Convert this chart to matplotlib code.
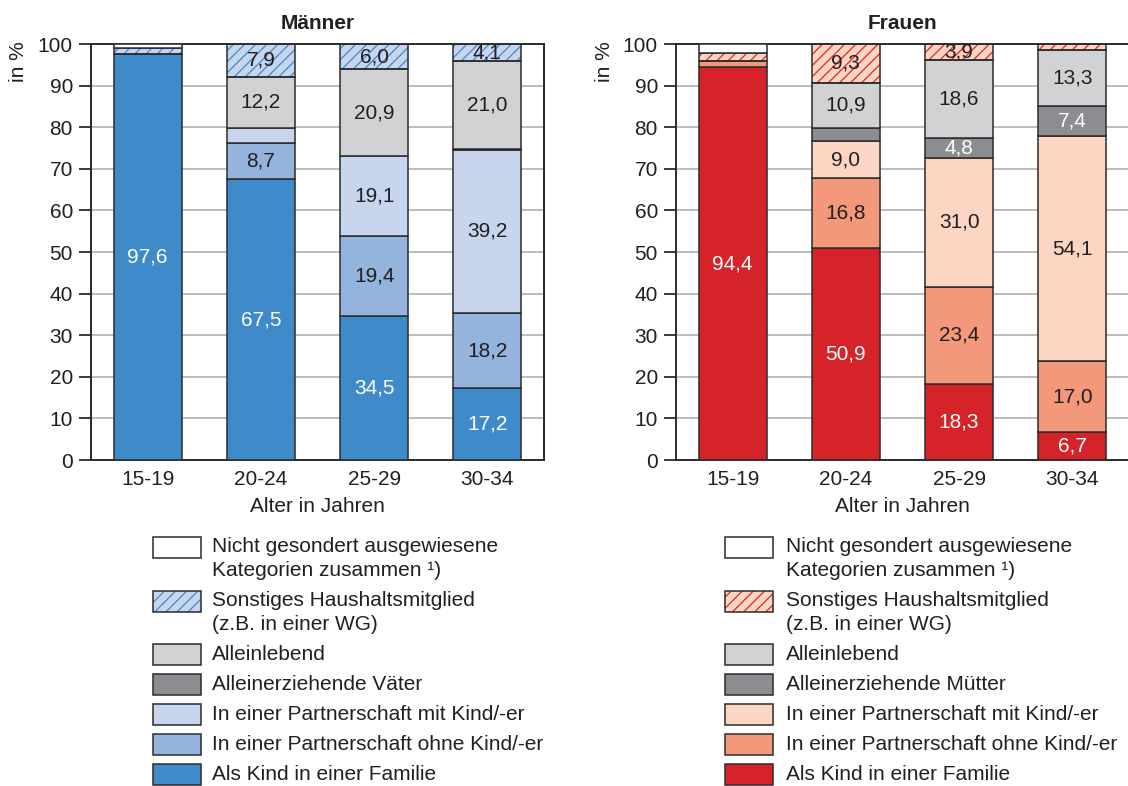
import matplotlib
matplotlib.use("Agg")
import matplotlib.pyplot as plt
from matplotlib.patches import Rectangle

plt.rcParams['font.family'] = ['Liberation Sans', 'DejaVu Sans']
plt.rcParams['hatch.linewidth'] = 0.9

TXT = '#231f20'
EDGE = '#2b2b2b'
FS = 15

ages = ["15-19", "20-24", "25-29", "30-34"]

# Männer, shares in % (bottom to top)
m_kind = [97.6, 67.5, 34.5, 17.2]
m_ohne = [0.0, 8.7, 19.4, 18.2]
m_mit = [0.0, 3.7, 19.1, 39.2]
m_vaeter = [0.0, 0.0, 0.0, 0.2]
m_allein = [0.0, 12.2, 20.9, 21.0]
m_sonst = [1.5, 7.9, 6.0, 4.1]
m_nicht = [0.9, 0.0, 0.1, 0.1]

# Frauen, shares in % (bottom to top)
f_kind = [94.4, 50.9, 18.3, 6.7]
f_ohne = [1.5, 16.8, 23.4, 17.0]
f_mit = [0.0, 9.0, 31.0, 54.1]
f_muetter = [0.0, 3.1, 4.8, 7.4]
f_allein = [0.0, 10.9, 18.6, 13.3]
f_sonst = [1.9, 9.3, 3.9, 1.4]
f_nicht = [2.2, 0.0, 0.0, 0.1]

m_labels = ["Nicht gesondert ausgewiesene\nKategorien zusammen ¹)",
            "Sonstiges Haushaltsmitglied\n(z.B. in einer WG)",
            "Alleinlebend",
            "Alleinerziehende Väter",
            "In einer Partnerschaft mit Kind/-er",
            "In einer Partnerschaft ohne Kind/-er",
            "Als Kind in einer Familie"]
f_labels = ["Nicht gesondert ausgewiesene\nKategorien zusammen ¹)",
            "Sonstiges Haushaltsmitglied\n(z.B. in einer WG)",
            "Alleinlebend",
            "Alleinerziehende Mütter",
            "In einer Partnerschaft mit Kind/-er",
            "In einer Partnerschaft ohne Kind/-er",
            "Als Kind in einer Familie"]

GRAY_L = '#d1d2d4'
GRAY_D = '#8b8d90'
# style per segment (bottom to top): face, hatch, hatch colour, label colour
m_style = [('#3f8bc9', None, None, 'white'),
           ('#94b4de', None, None, TXT),
           ('#c7d6ee', None, None, TXT),
           (GRAY_D, None, None, 'white'),
           (GRAY_L, None, None, TXT),
           ('#c7d6ee', '///', '#3f8bc9', TXT),
           ('white', None, None, TXT)]
f_style = [('#d6232a', None, None, 'white'),
           ('#f4987b', None, None, TXT),
           ('#fdd5c3', None, None, TXT),
           (GRAY_D, None, None, 'white'),
           (GRAY_L, None, None, TXT),
           ('#fdd5c3', '///', '#e0262b', TXT),
           ('white', None, None, TXT)]

W, H = 1128, 786
fig = plt.figure(figsize=(W / 100, H / 100), dpi=100)


def fx(x):
    return x / W


def fy(y):
    return 1 - y / H


def fmt(v):
    return f"{v:.1f}".replace('.', ',')


def draw_panel(left_px, title, series, styles):
    ax = fig.add_axes([fx(left_px), fy(460), 453 / W, 416 / H])
    x = list(range(len(ages)))
    bottoms = [0.0] * len(ages)
    for vals, (face, hatch, hcol, lcol) in zip(series, styles):
        for i, v in enumerate(vals):
            if v <= 0:
                continue
            if hatch:
                ax.bar(x[i], v, 0.6, bottom=bottoms[i], color=face,
                       hatch=hatch, edgecolor=hcol, linewidth=0, zorder=2)
                ax.bar(x[i], v, 0.6, bottom=bottoms[i], fill=False,
                       edgecolor=EDGE, linewidth=1.1, zorder=3)
            else:
                ax.bar(x[i], v, 0.6, bottom=bottoms[i], color=face,
                       edgecolor=EDGE, linewidth=1.1, zorder=3)
            if v >= 3.8:
                ax.text(x[i], bottoms[i] + v / 2, fmt(v), ha='center',
                        va='center', fontsize=FS, color=lcol, zorder=4)
            bottoms[i] += v
    ax.set_xlim(-0.5, 3.5)
    ax.set_ylim(0, 100)
    ax.set_yticks(range(0, 101, 10))
    ax.set_xticks(x)
    ax.set_xticklabels(ages)
    ax.tick_params(axis='y', direction='out', length=9, width=1.3,
                   color=EDGE, labelsize=FS, labelcolor=TXT, pad=4)
    ax.tick_params(axis='x', length=0, labelsize=FS, labelcolor=TXT, pad=7)
    ax.yaxis.grid(True, color='#b0b0b0', linewidth=1.2, zorder=0)
    ax.set_axisbelow(True)
    for s in ax.spines.values():
        s.set_color(EDGE)
        s.set_linewidth(1.4)
    ax.set_xlabel("Alter in Jahren", fontsize=FS, color=TXT, labelpad=6)
    ax.set_title(title, fontsize=FS, fontweight='bold', color=TXT, pad=11)
    return ax


draw_panel(91, "Männer",
           [m_kind, m_ohne, m_mit, m_vaeter, m_allein, m_sonst, m_nicht],
           m_style)
draw_panel(676, "Frauen",
           [f_kind, f_ohne, f_mit, f_muetter, f_allein, f_sonst, f_nicht],
           f_style)

for xc in (19, 605):
    fig.text(fx(xc), fy(41), "in %", rotation=90, ha='center', va='top',
             fontsize=FS, color=TXT)

# legends, drawn top to bottom
row_y = [547, 601, 654, 684, 714, 744, 774]


def draw_legend(box_x, text_x, labels, styles):
    for y, lab, (face, hatch, hcol, _) in zip(row_y, labels,
                                              list(reversed(styles))):
        if hatch:
            r = Rectangle((fx(box_x), fy(y + 10.5)), 48 / W, 21 / H,
                          transform=fig.transFigure, facecolor=face,
                          hatch=hatch, edgecolor=hcol, linewidth=0)
            fig.add_artist(r)
        r = Rectangle((fx(box_x), fy(y + 10.5)), 48 / W, 21 / H,
                      transform=fig.transFigure,
                      facecolor='none' if hatch else face,
                      edgecolor=EDGE, linewidth=1.1)
        fig.add_artist(r)
        for k, line in enumerate(lab.split('\n')):
            fig.text(fx(text_x), fy(y + 24 * k), line, ha='left',
                     va='center', fontsize=FS, color=TXT)


draw_legend(153, 212, m_labels, m_style)
draw_legend(725, 786, f_labels, f_style)

fig.savefig("out.png", dpi=100, facecolor='white')
